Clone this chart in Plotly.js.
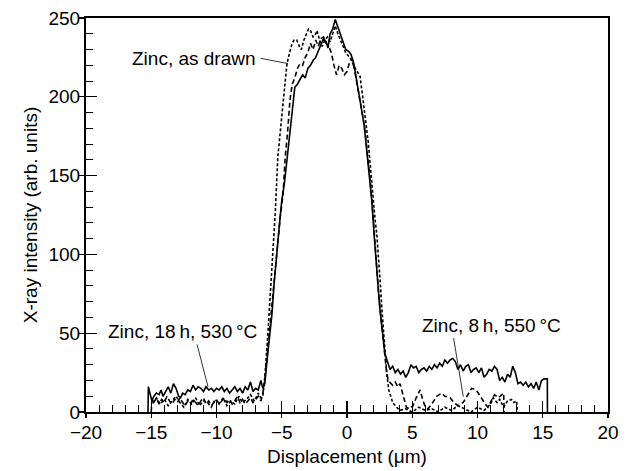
<!DOCTYPE html>
<html>
<head>
<meta charset="utf-8">
<script src="https://cdn.plot.ly/plotly-3.0.1.min.js"></script>
<style>html,body{margin:0;padding:0;background:#fff;}#chart{width:628px;height:471px;}</style>
</head>
<body>
<div id="chart"></div>
<script>
// Zinc, 18 h, 530 °C (solid)
const x18h = [-15.25,-15.22,-15.1,-14.95,-14.8,-14.6,-14.4,-14.25,-14.1,-13.9,-13.7,-13.5,-13.3,-13.1,-12.9,-12.75,-12.6,-12.4,-12.2,-12.0,-11.8,-11.6,-11.4,-11.2,-11.0,-10.8,-10.6,-10.4,-10.2,-10.0,-9.8,-9.6,-9.4,-9.2,-9.0,-8.8,-8.6,-8.4,-8.2,-8.0,-7.8,-7.6,-7.4,-7.2,-7.0,-6.8,-6.6,-6.45,-6.3,-6.1,-5.9,-5.75,-5.6,-5.4,-5.2,-5.0,-4.8,-4.6,-4.4,-4.2,-4.0,-3.8,-3.6,-3.4,-3.2,-3.0,-2.8,-2.6,-2.4,-2.2,-2.0,-1.8,-1.6,-1.45,-1.3,-1.1,-0.9,-0.7,-0.5,-0.3,-0.1,0.1,0.3,0.5,0.7,0.9,1.1,1.3,1.5,1.7,1.9,2.1,2.3,2.5,2.7,2.9,3.1,3.3,3.5,3.7,3.9,4.1,4.3,4.5,4.7,4.9,5.1,5.3,5.5,5.7,5.9,6.1,6.3,6.5,6.7,6.9,7.1,7.3,7.5,7.7,7.9,8.1,8.3,8.5,8.7,8.9,9.1,9.3,9.5,9.7,9.9,10.1,10.3,10.5,10.7,10.9,11.1,11.3,11.5,11.7,11.9,12.1,12.3,12.5,12.7,12.9,13.1,13.3,13.5,13.7,13.9,14.1,14.3,14.5,14.7,14.9,15.1,15.35,15.36];
const y18h = [0,16,12,7,10,12,11,14,10,13,16,12,18,15,10,9,12,11,14,13,17,14,16,15,13,16,14,15,13,15,14,16,13,15,12,14,16,13,15,12,16,14,19,13,15,14,20,15,18,35,52,62,80,100,117,134,145,160,176,190,206,208,211,214,212,218,220,223,225,229,233,237,235,231,240,243,249,244,240,235,230,229,227,222,212,204,193,183,167,150,134,110,88,67,52,37,32,27,29,25,27,24,26,22,25,30,28,29,25,27,28,26,29,27,30,28,31,29,33,31,33,34,32,27,30,26,29,30,25,27,28,25,28,22,24,27,26,29,27,20,22,19,24,22,29,25,18,19,17,19,16,18,15,19,14,20,21,21,0];

// Zinc, 8 h, 550 °C (dashed)
const x8h = [-15.0,-14.95,-14.8,-14.6,-14.4,-14.2,-14.0,-13.8,-13.6,-13.4,-13.2,-13.0,-12.8,-12.6,-12.4,-12.2,-12.0,-11.8,-11.6,-11.4,-11.2,-11.0,-10.8,-10.6,-10.4,-10.2,-10.0,-9.8,-9.6,-9.4,-9.2,-9.0,-8.8,-8.6,-8.4,-8.2,-8.0,-7.8,-7.6,-7.4,-7.2,-7.0,-6.8,-6.6,-6.45,-6.3,-6.1,-5.9,-5.7,-5.5,-5.3,-5.1,-4.9,-4.75,-4.55,-4.37,-4.2,-4.0,-3.8,-3.6,-3.4,-3.2,-3.0,-2.8,-2.6,-2.4,-2.2,-2.0,-1.8,-1.6,-1.4,-1.2,-1.0,-0.8,-0.6,-0.4,-0.2,0.0,0.2,0.4,0.6,0.8,1.0,1.2,1.4,1.6,1.8,2.0,2.2,2.4,2.6,2.8,3.0,3.15,3.35,3.5,3.7,3.9,4.06,4.3,4.55,4.8,5.06,5.3,5.6,5.8,6.0,6.2,6.5,6.87,7.1,7.26,7.5,7.9,8.2,8.5,8.9,9.2,9.55,9.9,10.2,10.4,10.6,10.8,11.1,11.3,11.6,12.0,12.05];
const y8h = [0,8,6,9,5,8,6,10,7,5,8,6,9,6,4,7,5,8,6,4,7,9,5,7,4,6,8,5,7,9,6,8,5,7,10,6,8,5,7,9,6,8,10,7,12,20,38,55,72,92,112,125,138,160,178,198,208,212,218,221,220,225,228,234,230,236,232,237,238,234,232,228,220,214,220,218,214,216,222,224,216,207,198,188,177,162,145,124,100,78,60,42,28,20,18,17,19,16,18,10,3,2,4,9,14,8,3,2,5,10,11,12,10,9,6,4,6,10,15,14,10,7,5,3,8,11,9,12,0];

// Zinc, as drawn (dotted)
const xDrawn = [-14.9,-14.6,-14.3,-14.0,-13.7,-13.4,-13.1,-12.8,-12.5,-12.2,-11.9,-11.6,-11.3,-11.0,-10.7,-10.4,-10.1,-9.8,-9.5,-9.2,-8.9,-8.6,-8.3,-8.0,-7.7,-7.4,-7.1,-6.8,-6.6,-6.45,-6.3,-6.1,-5.9,-5.7,-5.5,-5.3,-5.1,-4.9,-4.75,-4.6,-4.4,-4.2,-4.05,-3.85,-3.6,-3.5,-3.3,-3.1,-2.95,-2.8,-2.6,-2.45,-2.3,-2.1,-1.9,-1.7,-1.5,-1.3,-1.1,-0.9,-0.7,-0.5,-0.3,-0.1,0.1,0.3,0.5,0.7,1.0,1.2,1.4,1.63,1.8,2.0,2.15,2.28,2.4,2.55,2.66,2.8,2.9,3.05,3.2,3.5,3.8,4.06,4.5,5.0,5.5,6.0,6.5,7.0,7.5,8.0,8.5,9.0,9.5,10.0,10.5,11.0,11.2,11.5,11.7,12.0,12.3,12.6,12.8,13.0,13.05];
const yDrawn = [6,9,5,8,4,7,10,6,3,8,5,9,4,7,6,3,8,5,9,4,7,5,10,6,8,11,7,12,9,10,22,45,70,95,126,162,180,198,210,221,228,234,236,236,231,230,236,240,243,242,238,239,242,236,232,236,238,235,240,245,240,236,232,228,226,224,220,217,213,200,186,171,155,134,122,113,101,82,67,50,39,24,14,6,3,1,2,0,3,1,2,0,3,1,4,2,0,3,1,5,9,6,8,3,7,8,6,7,0];

const xTicks = [-20,-15,-10,-5,0,5,10,15,20];
const xTickText = ['\u221220','\u221215','\u221210','\u22125','0','5','10','15','20'];
const yTicks = [0,50,100,150,200,250];

const FONT = 'Liberation Sans, Arial, Helvetica, sans-serif';
const FS = 19;
const lineStyle = {color:'#000', width:1.6};

const traces = [
  {x:x18h, y:y18h, mode:'lines', line:{...lineStyle, dash:'solid'}, name:'Zinc, 18 h, 530 °C', showlegend:false},
  {x:x8h, y:y8h, mode:'lines', line:{...lineStyle, dash:'5px,3px'}, name:'Zinc, 8 h, 550 °C', showlegend:false},
  {x:xDrawn, y:yDrawn, mode:'lines', line:{...lineStyle, dash:'3px,2px'}, name:'Zinc, as drawn', showlegend:false}
];

const annFont = {family:FONT, size:FS, color:'#000'};
const layout = {
  width:628, height:471,
  margin:{l:86, r:20, t:18, b:59},
  paper_bgcolor:'#fff', plot_bgcolor:'#fff',
  font:{family:FONT, size:FS, color:'#000'},
  showlegend:false,
  xaxis:{
    range:[-20,20], tickvals:xTicks, ticktext:xTickText,
    ticks:'inside', ticklen:11, tickwidth:1.3, tickcolor:'#000',
    minor:{dtick:1, ticks:'inside', ticklen:7, tickwidth:1, tickcolor:'#000'},
    showline:true, linewidth:2, linecolor:'#000', mirror:true,
    showgrid:false, zeroline:false,
    tickfont:{family:FONT, size:FS, color:'#000'},
    ticklabelstandoff:2,
    title:{text:'Displacement (\u03bcm)', font:{family:FONT, size:FS, color:'#000'}, standoff:8}
  },
  yaxis:{
    range:[0,250], tickvals:yTicks,
    ticks:'inside', ticklen:11, tickwidth:1.3, tickcolor:'#000',
    minor:{dtick:10, ticks:'inside', ticklen:7, tickwidth:1, tickcolor:'#000'},
    showline:true, linewidth:2, linecolor:'#000', mirror:true,
    showgrid:false, zeroline:false,
    tickfont:{family:FONT, size:FS, color:'#000'},
    title:{text:'X-ray intensity (arb. units)', font:{family:FONT, size:FS, color:'#000'}, standoff:6}
  },
  xaxis2:{overlaying:'x', matches:'x', range:[-20,20], tickvals:xTicks, showticklabels:false,
    ticks:'outside', ticklen:5, tickwidth:1.3, tickcolor:'#000', showline:false, showgrid:false, zeroline:false},
  yaxis2:{overlaying:'y', matches:'y', range:[0,250], tickvals:yTicks, showticklabels:false,
    ticks:'outside', ticklen:6, tickwidth:1.3, tickcolor:'#000', showline:false, showgrid:false, zeroline:false},
  annotations:[
    {x:-6.85, y:224.6, xref:'x', yref:'y', text:'Zinc, as drawn', showarrow:false, xanchor:'right', yanchor:'middle', font:annFont},
    {x:-18.5, y:51, xref:'x', yref:'y', text:'Zinc, 18\u2009h, 530\u2009\u00b0C', showarrow:false, xanchor:'left', yanchor:'middle', font:annFont},
    {x:5.6, y:55, xref:'x', yref:'y', text:'Zinc, 8\u2009h, 550\u2009\u00b0C', showarrow:false, xanchor:'left', yanchor:'middle', font:annFont},
    {x:-4.52, y:221.1, ax:-6.74, ay:224.6, xref:'x', yref:'y', axref:'x', ayref:'y', text:'', showarrow:true, arrowhead:0, arrowwidth:0.8, arrowcolor:'#000'},
    {x:-10.65, y:16, ax:-11.52, ay:43.8, xref:'x', yref:'y', axref:'x', ayref:'y', text:'', showarrow:true, arrowhead:0, arrowwidth:0.8, arrowcolor:'#000'},
    {x:8.91, y:9.7, ax:8.15, ay:47.8, xref:'x', yref:'y', axref:'x', ayref:'y', text:'', showarrow:true, arrowhead:0, arrowwidth:0.8, arrowcolor:'#000'}
  ]
};

Plotly.newPlot('chart', [
  ...traces,
  {x:[-20], y:[0], xaxis:'x2', yaxis:'y2', mode:'markers', marker:{opacity:0}, hoverinfo:'skip', showlegend:false}
], layout, {staticPlot:true, displayModeBar:false});
</script>
</body>
</html>
